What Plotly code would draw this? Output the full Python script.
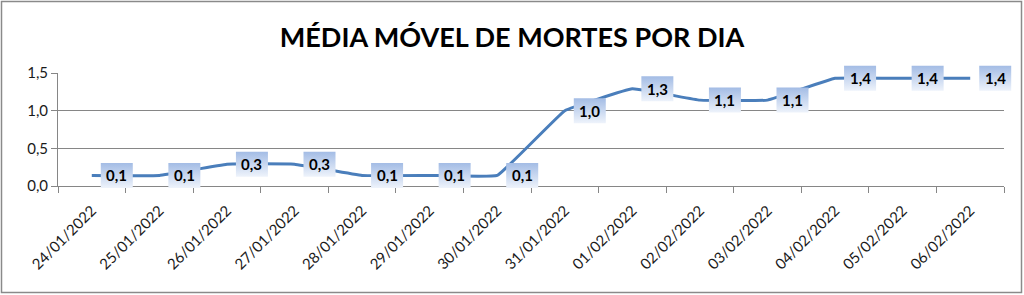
import plotly.graph_objects as go

dates = ["24/01/2022", "25/01/2022", "26/01/2022", "27/01/2022", "28/01/2022",
         "29/01/2022", "30/01/2022", "31/01/2022", "01/02/2022", "02/02/2022",
         "03/02/2022", "04/02/2022", "05/02/2022", "06/02/2022"]
media_movel = [0.14, 0.14, 0.29, 0.29, 0.14, 0.14, 0.14, 1.00, 1.29, 1.14,
               1.14, 1.43, 1.43, 1.43]
y_ticks = [0.0, 0.5, 1.0, 1.5]
title_text = "MÉDIA MÓVEL DE MORTES POR DIA"

FONT = "Lato, Open Sans, DejaVu Sans, sans-serif"
LINE_BLUE = "#4a7ebb"
GRID = "#868686"

# layout geometry (pixels)
W, H = 1024, 295
AX_L, AX_R, AX_T, AX_B = 58, 1004, 73, 186        # main plot area
PAP_L, PAP_R, PAP_T, PAP_B = 58, 1016, 55, 195    # overall drawing area
PAP_W = PAP_R - PAP_L
PAP_H = PAP_B - PAP_T
Y_MAX = 1.5
PX_PER_CAT = (AX_R - AX_L) / len(dates)
PX_PER_Y = (AX_B - AX_T) / Y_MAX

# data-label box size / offset (pixels)
LBL_SHIFT, LBL_W, LBL_H = 25, 32, 25

fig = go.Figure()
fig.add_trace(go.Scatter(
    x=dates, y=media_movel, mode="lines",
    line=dict(color=LINE_BLUE, width=3, shape="spline", smoothing=0.22),
    hoverinfo="skip", showlegend=False,
))

annotations = []
for i, v in enumerate(media_movel):
    cx = i + LBL_SHIFT / PX_PER_CAT
    hw = LBL_W / 2 / PX_PER_CAT
    hh = LBL_H / 2 / PX_PER_Y
    fig.add_trace(go.Scatter(
        x=[cx - hw, cx + hw, cx + hw, cx - hw, cx - hw],
        y=[v - hh, v - hh, v + hh, v + hh, v - hh],
        xaxis="x2", yaxis="y2", mode="lines", line=dict(width=0),
        fill="toself",
        fillgradient=dict(type="vertical",
                          colorscale=[[0, "#eef3fb"], [1, "#a3bce5"]]),
        hoverinfo="skip", showlegend=False,
    ))
    annotations.append(dict(
        x=cx, y=v, xref="x2", yref="y2",
        text=f"{v:.1f}".replace(".", ","),
        showarrow=False, xanchor="center", yanchor="middle",
        font=dict(family=FONT, size=15, color="#000000", weight="bold"),
    ))

fig.update_layout(
    width=W, height=H,
    margin=dict(l=PAP_L, r=W - PAP_R, t=PAP_T, b=H - PAP_B, autoexpand=False),
    paper_bgcolor="white", plot_bgcolor="rgba(0,0,0,0)",
    separators=",.",
    font=dict(family=FONT, size=15, color="#1a1a1a"),
    title=dict(
        text=title_text, x=0.5, xref="container", xanchor="center",
        y=1 - 38 / H, yref="container", yanchor="middle",
        font=dict(family=FONT, size=27, color="#000000", weight="bold"),
    ),
    annotations=annotations,
    shapes=[dict(type="rect", xref="paper", yref="paper",
                 x0=(1.5 - PAP_L) / PAP_W, x1=(1021.5 - PAP_L) / PAP_W,
                 y0=(PAP_B - 292.5) / PAP_H, y1=(PAP_B - 1.5) / PAP_H,
                 line=dict(color="#8a8a8a", width=1.5), fillcolor="rgba(0,0,0,0)",
                 layer="below")],
    xaxis=dict(
        domain=[0, (AX_R - AX_L) / PAP_W],
        type="category", tickangle=-45, tickson="boundaries",
        ticks="outside", ticklen=6, tickcolor=GRID,
        showline=True, linecolor=GRID, linewidth=1,
        showgrid=False, zeroline=False, ticklabelstandoff=9,
        tickfont=dict(family=FONT, size=15, color="#1a1a1a"),
        range=[-0.5, len(dates) - 0.5], fixedrange=True,
    ),
    yaxis=dict(
        domain=[(PAP_B - AX_B) / PAP_H, (PAP_B - AX_T) / PAP_H],
        range=[0, Y_MAX], tickvals=y_ticks, tickformat=".1f",
        ticks="outside", ticklen=6, tickcolor=GRID,
        showline=True, linecolor=GRID, linewidth=1,
        showgrid=True, gridcolor=GRID, gridwidth=1, zeroline=False,
        tickfont=dict(family=FONT, size=15, color="#1a1a1a"), fixedrange=True,
    ),
    xaxis2=dict(
        domain=[0, 1], anchor="y2", visible=False, fixedrange=True,
        range=[-0.5, -0.5 + PAP_W / PX_PER_CAT],
    ),
    yaxis2=dict(
        domain=[0, 1], anchor="x2", visible=False, fixedrange=True,
        range=[(AX_B - PAP_B) / PX_PER_Y, (AX_B - PAP_T) / PX_PER_Y],
    ),
)

fig.write_html("out.html")
